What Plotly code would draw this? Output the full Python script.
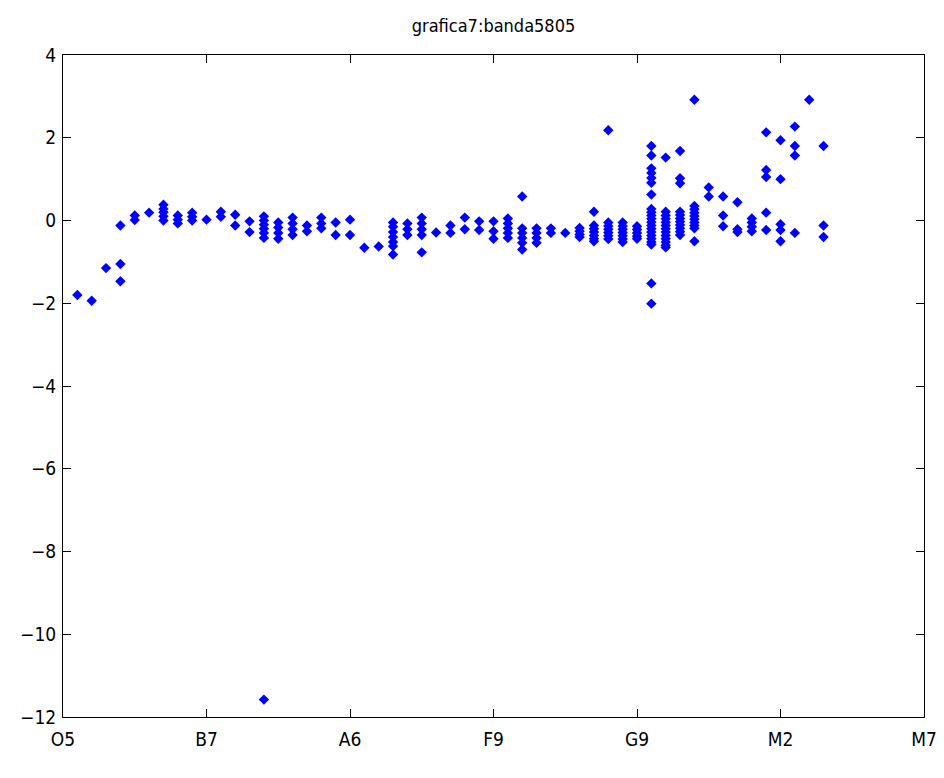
## grafica7: banda5805 scatter (MATLAB style box plot)
import plotly.graph_objects as go

## Data
x_index = list(range(1, 54))

column_values = [
    [-1.80],                                   # 1
    [-1.94],                                   # 2
    [-1.15],                                   # 3
    [-0.12, -1.05, -1.47],                     # 4
    [0.12, 0.01],                              # 5
    [0.19],                                    # 6
    [0.38, 0.28, 0.20, 0.10, 0.00],            # 7
    [0.12, 0.02, -0.07],                       # 8
    [0.19, 0.09, 0.00],                        # 9
    [0.02],                                    # 10
    [0.21, 0.09],                              # 11
    [0.14, -0.12],                             # 12
    [-0.02, -0.28],                            # 13
    [0.10, 0.00, -0.10, -0.20, -0.30, -0.42, -11.58],  # 14
    [-0.05, -0.17, -0.30, -0.44],              # 15
    [0.07, -0.07, -0.21, -0.35],               # 16
    [-0.12, -0.26],                            # 17
    [0.07, -0.07, -0.19],                      # 18
    [-0.05, -0.35],                            # 19
    [0.02, -0.35],                             # 20
    [-0.66],                                   # 21
    [-0.63],                                   # 22
    [-0.05, -0.15, -0.28, -0.40, -0.52, -0.62, -0.82],  # 23
    [-0.07, -0.21, -0.35],                     # 24
    [0.07, -0.07, -0.21, -0.35, -0.77],        # 25
    [-0.29],                                   # 26
    [-0.12, -0.30],                            # 27
    [0.07, -0.21],                             # 28
    [-0.02, -0.23],                            # 29
    [-0.02, -0.26, -0.44],                     # 30
    [0.05, -0.07, -0.19, -0.30, -0.42],        # 31
    [0.58, -0.19, -0.30, -0.42, -0.54, -0.70], # 32
    [-0.19, -0.30, -0.42, -0.54],              # 33
    [-0.19, -0.30],                            # 34
    [-0.30],                                   # 35
    [-0.18, -0.26, -0.34, -0.40],              # 36
    [0.21, -0.12, -0.20, -0.28, -0.36, -0.44, -0.50],  # 37
    [2.18, -0.05, -0.13, -0.21, -0.29, -0.37, -0.45],  # 38
    [-0.05, -0.13, -0.21, -0.29, -0.37, -0.45, -0.52], # 39
    [-0.14, -0.22, -0.30, -0.38, -0.44],       # 40
    [1.80, 1.57, 1.26, 1.15, 1.03, 0.91, 0.63, 0.28, 0.20, 0.12, 0.04,
     -0.04, -0.12, -0.20, -0.28, -0.36, -0.44, -0.52, -0.58, -1.52, -2.01],  # 41
    [1.52, 0.21, 0.12, 0.04, -0.04, -0.12, -0.20, -0.28, -0.36, -0.44,
     -0.52, -0.60, -0.65],                     # 42
    [1.68, 1.02, 0.90, 0.21, 0.13, 0.05, -0.03, -0.11, -0.19, -0.27, -0.35],  # 43
    [2.92, 0.35, 0.27, 0.19, 0.11, 0.03, -0.05, -0.12, -0.19, -0.50],  # 44
    [0.80, 0.58],                              # 45
    [0.58, 0.12, -0.14],                       # 46
    [0.44, -0.21, -0.28],                      # 47
    [0.05, -0.05, -0.15, -0.26],               # 48
    [2.13, 1.22, 1.05, 0.19, -0.23],           # 49
    [1.94, 1.00, -0.09, -0.23, -0.50],         # 50
    [2.27, 1.80, 1.57, -0.30],                 # 51
    [2.92],                                    # 52
    [1.80, -0.12, -0.40],                      # 53
]

x_tick_vals = [0, 10, 20, 30, 40, 50, 60]
x_tick_text = ["O5", "B7", "A6", "F9", "G9", "M2", "M7"]
y_tick_vals = [-12, -10, -8, -6, -4, -2, 0, 2, 4]

## Flatten columns into point lists
xs, ys = [], []
for xi, vals in zip(x_index, column_values):
    for v in vals:
        xs.append(xi)
        ys.append(v)

FONT = "DejaVu Sans Condensed, Liberation Sans, Arial, sans-serif"

fig = go.Figure()
fig.add_trace(go.Scatter(
    x=xs, y=ys, mode="markers",
    marker=dict(symbol="diamond", size=8, color="#0000ff", line=dict(width=0)),
    showlegend=False,
))

axis_common = dict(
    showgrid=False, zeroline=False, showline=True, linecolor="black", linewidth=1,
    mirror="ticks", ticks="inside", ticklen=8, tickcolor="black",
    tickfont=dict(family=FONT, size=19, color="black"),
)

fig.update_xaxes(range=[0, 60], tickvals=x_tick_vals, ticktext=x_tick_text,
                 ticklabelstandoff=5, **axis_common)
fig.update_yaxes(range=[-12, 4], tickvals=y_tick_vals, ticklabelstandoff=2, **axis_common)

fig.update_layout(
    width=944, height=778,
    margin=dict(l=50, r=28, t=47, b=69),
    paper_bgcolor="white", plot_bgcolor="white",
    title=dict(text="grafica7:banda5805", x=0.5, xref="paper", y=1 - 18 / 778,
               yref="container", xanchor="center", yanchor="middle",
               font=dict(family=FONT, size=18, color="black")),
)

fig.write_html("out.html")
